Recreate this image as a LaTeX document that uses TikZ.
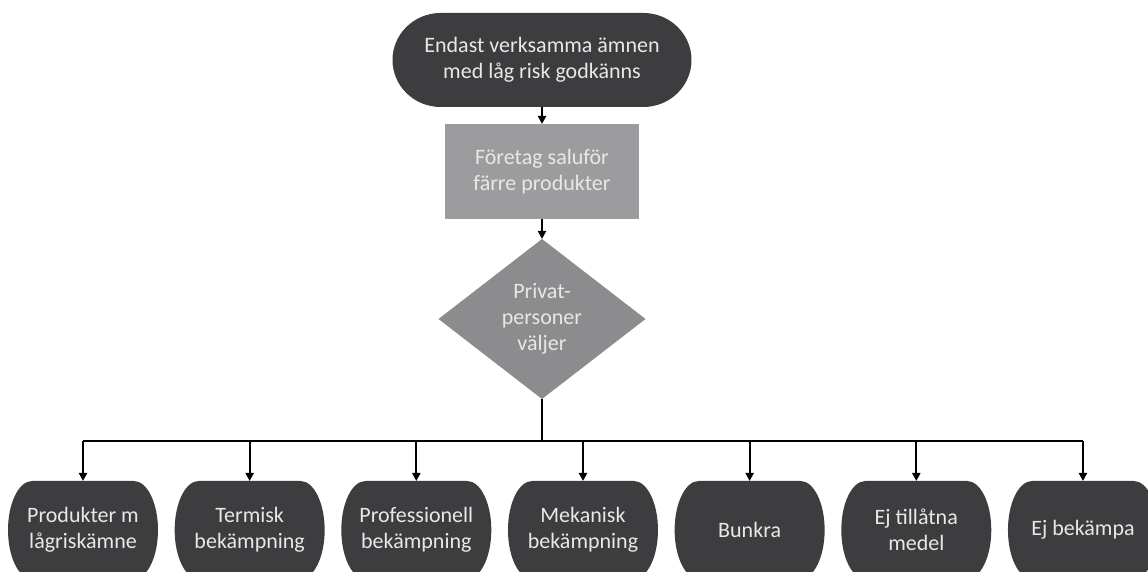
\documentclass[tikz,border=0pt]{standalone}
\usepackage{fontspec}
\setmainfont{Carlito}
\usetikzlibrary{shapes.geometric, arrows.meta, positioning, calc}
\definecolor{termgray}{HTML}{3D3D40}
\definecolor{boxgray}{HTML}{9C9C9E}
\definecolor{diagray}{HTML}{8C8C8E}
\definecolor{txtgray}{HTML}{E8E8E8}
\tikzset{
  flowtext/.style={font=\fontsize{11}{13}\selectfont, text=txtgray, align=center, inner sep=0pt, outer sep=0pt},
  terminator/.style={rectangle, flowtext,
    path picture={\fill[termgray] let \p1=(path picture bounding box.south west), \p2=(path picture bounding box.north east), \n1={0.161*(\x2-\x1)}, \n2={0.5*(\y2-\y1)} in (\x1+\n1,\y2) -- (\x2-\n1,\y2) arc[start angle=90, end angle=-90, x radius=\n1, y radius=\n2] -- (\x1+\n1,\y1) arc[start angle=270, end angle=90, x radius=\n1, y radius=\n2] -- cycle;}}, % office style end caps
  firmbox/.style={rectangle, flowtext, fill=boxgray, minimum width=97pt, minimum height=47.5pt},
  choice/.style={diamond, flowtext, fill=diagray, aspect=1.3, minimum width=103.5pt, minimum height=80pt},
  outcome/.style={terminator, minimum width=75pt, minimum height=49pt}
}

\begin{document}
\begin{tikzpicture}[>={Triangle[length=4pt,width=4pt]}, line width=1pt, x=1pt, y=1pt]
    \useasboundingbox (0,0) rectangle (574,-286);
    \clip (0,0) rectangle (574,-286);

    % Nodes
    \node[terminator, minimum width=149.5pt, minimum height=47pt] (approval) at (271,-30) {Endast verksamma ämnen\\med låg risk godkänns};
    \node[firmbox, below=8.5pt of approval] (firms) {Företag saluför\\färre produkter};
    \node[choice, below=10pt of firms] (persons) {Privat-\\personer\\väljer};
    \coordinate[below=21pt of persons] (bus);

    \node[outcome] (o1) at (41.5,-265) {Produkter m\\lågriskämne};
    \node[outcome, right=8.33pt of o1] (o2) {Termisk\\bekämpning};
    \node[outcome, right=8.33pt of o2] (o3) {Professionell\\bekämpning};
    \node[outcome, right=8.33pt of o3] (o4) {Mekanisk\\bekämpning};
    \node[outcome, right=8.33pt of o4] (o5) {Bunkra};
    \node[outcome, right=8.33pt of o5] (o6) {Ej tillåtna\\medel};
    \node[outcome, right=8.33pt of o6] (o7) {Ej bekämpa};

    % Edges
    \draw[->] (approval) -- (firms);
    \draw[->] (firms) -- (persons);
    \draw (persons) -- (bus);
    \draw (bus -| o1.north) -- (bus -| o7.north);
    \foreach \n in {o1,o2,o3,o4,o5,o6,o7}
        \draw[->] (bus -| \n.north) -- (\n.north);

\end{tikzpicture}
\end{document}
